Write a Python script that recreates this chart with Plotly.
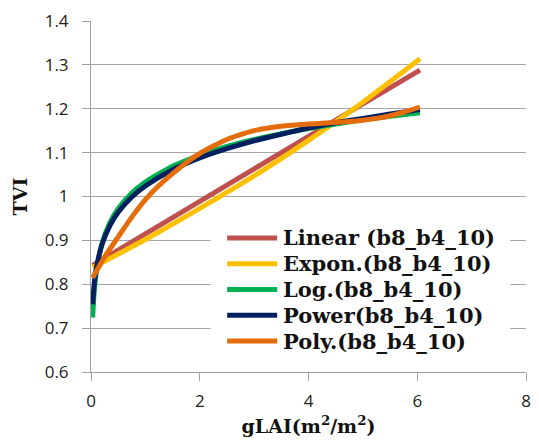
import plotly.graph_objects as go

# x positions (gLAI) at which the trendlines were read
x_lin = [0.03, 1, 2, 3, 4, 5, 6.05]
y_linear = [0.843, 0.915, 0.989, 1.063, 1.137, 1.211, 1.288]
y_expon = [0.838, 0.902, 0.973, 1.047, 1.128, 1.215, 1.314]

x_curve = [0.03, 0.06, 0.1, 0.2, 0.35, 0.5, 0.75, 1, 1.5, 2, 2.5, 3, 3.5, 4, 4.5, 5, 5.5, 6.05]
y_log = [0.724, 0.785, 0.830, 0.891, 0.941, 0.972, 1.008, 1.033, 1.069, 1.094, 1.114, 1.130,
         1.143, 1.155, 1.165, 1.175, 1.183, 1.191]
y_power = [0.754, 0.801, 0.837, 0.890, 0.934, 0.964, 0.999, 1.024, 1.061, 1.088, 1.109, 1.127,
           1.142, 1.156, 1.168, 1.178, 1.188, 1.198]

x_poly = [0.03, 0.25, 0.5, 0.75, 1, 1.25, 1.5, 1.75, 2, 2.25, 2.5, 2.75, 3, 3.25, 3.5, 3.75, 4,
          4.25, 4.5, 4.75, 5, 5.25, 5.5, 5.75, 6.05]
y_poly = [0.815, 0.862, 0.908, 0.953, 0.993, 1.025, 1.052, 1.077, 1.098, 1.115, 1.130, 1.141,
          1.150, 1.156, 1.160, 1.163, 1.165, 1.167, 1.169, 1.171, 1.174, 1.178, 1.184, 1.192, 1.204]

names = ["Linear (b8_b4_10)", "Expon.(b8_b4_10)", "Log.(b8_b4_10)", "Power(b8_b4_10)", "Poly.(b8_b4_10)"]
colors = ["#C0504D", "#FFC000", "#00B050", "#002060", "#E46C0A"]
xs = [x_lin, x_lin, x_curve, x_curve, x_poly]
ys = [y_linear, y_expon, y_log, y_power, y_poly]

fig = go.Figure()
for n, c, xv, yv in zip(names, colors, xs, ys):
    fig.add_trace(go.Scatter(x=xv, y=yv, name=n, mode="lines", showlegend=False,
                             line=dict(color=c, width=5, shape="spline", smoothing=0.6)))

tickfont = dict(family="Open Sans, Liberation Sans, sans-serif", size=17, color="#222")
serif_bold = "DejaVu Serif, Liberation Serif, serif"

# hand-built legend (paper coordinates) to match the tight row spacing
leg_top = 0.382      # paper y of first row centre
leg_step = 0.0735    # paper y between rows
shapes = [dict(type="rect", xref="paper", yref="paper", x0=0.275, x1=0.964, y0=0.05, y1=0.42,
               fillcolor="white", line=dict(width=0), layer="above")]
annotations = []
for i, (n, c) in enumerate(zip(names, colors)):
    yy = leg_top - i * leg_step
    shapes.append(dict(type="line", xref="paper", yref="paper", x0=0.313, x1=0.428, y0=yy, y1=yy,
                       line=dict(color=c, width=5), layer="above"))
    annotations.append(dict(xref="paper", yref="paper", x=0.436, y=yy, xanchor="left",
                            yanchor="middle", text=n, showarrow=False,
                            font=dict(family=serif_bold, size=21, color="#111", weight="bold")))

fig.update_layout(
    width=539, height=442,
    margin=dict(l=91, r=8, t=21, b=70),
    paper_bgcolor="white", plot_bgcolor="white",
    showlegend=False,
    shapes=shapes, annotations=annotations,
    xaxis=dict(range=[0, 8], dtick=2, tick0=0, showgrid=False, zeroline=False,
               showline=True, linecolor="#A0A0A0", linewidth=1,
               ticks="outside", ticklen=8, tickcolor="#A0A0A0", ticklabelstandoff=6,
               tickfont=tickfont,
               title=dict(text="gLAI(m<sup>2</sup>/m<sup>2</sup>)", standoff=8,
                          font=dict(family=serif_bold, size=19, color="#111", weight="bold"))),
    yaxis=dict(range=[0.6, 1.4], dtick=0.1, tick0=0.6, showgrid=True, gridcolor="#A6A6A6",
               gridwidth=1, zeroline=False, showline=True, linecolor="#A0A0A0", linewidth=1,
               ticks="outside", ticklen=8, tickcolor="#A0A0A0", ticklabelstandoff=10,
               tickfont=tickfont, tickformat="~g",
               title=dict(text="TVI", standoff=12,
                          font=dict(family=serif_bold, size=19, color="#111", weight="bold"))),
)
fig.write_html("out.html")
